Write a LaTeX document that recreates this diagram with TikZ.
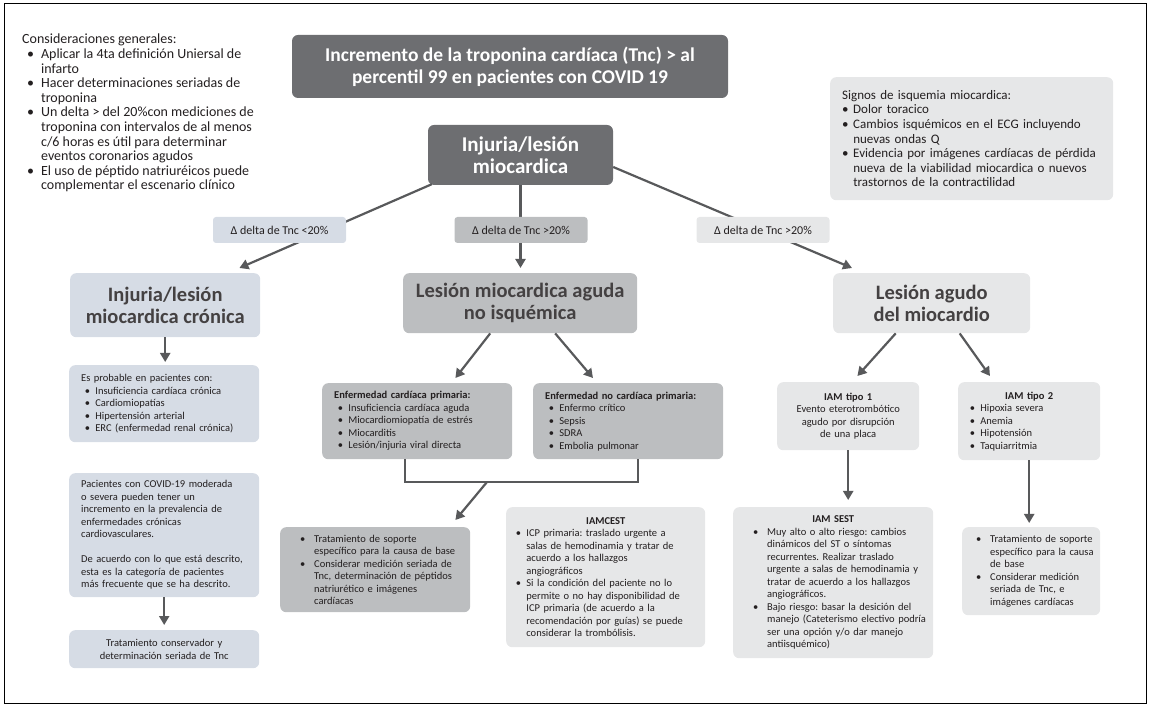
\documentclass[tikz,border=0pt]{standalone}
\usepackage{fontspec}
\setmainfont{Carlito}
\usetikzlibrary{arrows.meta}
\definecolor{dkbox}{HTML}{6D6E71}
\definecolor{mdbox}{HTML}{BCBEC0}
\definecolor{ltbox}{HTML}{E6E7E8}
\definecolor{blbox}{HTML}{D6DCE5}
\definecolor{linec}{HTML}{58595B}
\definecolor{txt}{HTML}{231F20}
\newcommand{\bul}[1][.35em]{\hspace*{#1}\makebox[1em][l]{\textbullet}}
\newcommand{\ind}[1][.35em]{\hspace*{#1}\hspace*{1em}}
\newcommand{\sbul}{\makebox[.85em][l]{\textbullet}}
\newcommand{\sind}{\hspace*{.85em}}
\frenchspacing

\begin{document}
\begin{tikzpicture}[
    x=1pt, y=-1pt,
    darkbox/.style={fill=dkbox, text=white, rounded corners=6pt, align=center, font=\bfseries\fontsize{21}{22}\selectfont},
    headbox/.style={rounded corners=6pt, align=center, anchor=north west, text=txt!85, font=\bfseries\fontsize{20.5}{22}\selectfont},
    infobox/.style={rounded corners=6pt, align=left, anchor=north west, text=txt, inner xsep=12pt, inner ysep=0pt, font=\fontsize{10.5}{12.5}\selectfont},
    deltabox/.style={rounded corners=3pt, minimum width=133pt, minimum height=26pt, text=txt, font=\fontsize{12}{13}\selectfont},
    link/.style={draw=linec, line width=2.2pt},
    arr/.style={link, -{Triangle[width=10pt,length=9pt]}},
  ]
  \useasboundingbox (0,0) rectangle (1152,708);
  \draw[line width=0.8pt] (4.5,3) rectangle (1146.5,703);

  \node[anchor=north west, align=left, inner sep=0pt, text=txt, font=\fontsize{14}{14.6}\selectfont] (gen) at (22,34)
    {Consideraciones generales:\\
     \bul Aplicar la 4ta definición Uniersal de\\
     \ind infarto\\
     \bul Hacer determinaciones seriadas de\\
     \ind troponina\\
     \bul Un delta > del 20\%con mediciones de\\
     \ind troponina con intervalos de al menos\\
     \ind c/6 horas es útil para determinar\\
     \ind eventos coronarios agudos\\
     \bul El uso de péptido natriuréicos puede\\
     \ind complementar el escenario clínico};
  \node[darkbox, font=\bfseries\fontsize{19.5}{22}\selectfont, minimum width=436pt, minimum height=63pt] (title) at (510,66.5)
    {Incremento de la troponina cardíaca (Tnc) > al\\percentil 99 en pacientes con COVID 19};
  \node[infobox, fill=ltbox, font=\fontsize{13}{14.6}\selectfont, text width=259pt, minimum height=123pt] (signos) at (830,77)
    {Signos de isquemia miocardica:\\
     \sbul Dolor toracico\\
     \sbul Cambios isquémicos en el ECG incluyendo\\
     \sind nuevas ondas Q\\
     \sbul Evidencia por imágenes cardíacas de pérdida\\
     \sind nueva de la viabilidad miocardica o nuevos\\
     \sind trastornos de la contractilidad};
  \node[darkbox, minimum width=185pt, minimum height=60pt] (inj) at (520.5,155) {Injuria/lesión\\miocardica};

  \node[headbox, fill=blbox, minimum width=190pt, minimum height=64pt] (chron) at (70,273) {Injuria/lesión\\miocardica crónica};
  \node[headbox, fill=mdbox, minimum width=234pt, minimum height=60pt] (noisq) at (403,273) {Lesión miocardica aguda\\no isquémica};
  \node[headbox, fill=ltbox, minimum width=197pt, minimum height=60pt] (agudo) at (833,273) {Lesión agudo\\del miocardio};

  \node[infobox, fill=blbox, text width=166pt, minimum height=77pt] (esprob) at (69,365)
    {Es probable en pacientes con:\\
     \bul Insuficiencia cardíaca crónica\\
     \bul Cardiomiopatías\\
     \bul Hipertensión arterial\\
     \bul ERC (enfermedad renal crónica)};
  \node[infobox, fill=blbox, text width=166pt, minimum height=124pt] (pac) at (69,473)
    {Pacientes con COVID-19 moderada\\
     o severa pueden tener un\\
     incremento en la prevalencia de\\
     enfermedades crónicas\\
     cardiovasculares.\\[12.5pt]
     De acuerdo con lo que está descrito,\\
     esta es la categoría de pacientes\\
     más frecuente que se ha descrito.};
  \node[infobox, fill=blbox, align=center, text width=166pt, minimum height=38pt] (conserv) at (69,630)
    {Tratamiento conservador y\\determinación seriada de Tnc};

  \node[infobox, fill=mdbox, inner xsep=12pt, text width=166pt, minimum height=76pt] (card) at (322,383)
    {\textbf{Enfermedad cardíaca primaria:}\\
     \bul Insuficiencia cardíaca aguda\\
     \bul Miocardiomiopatía de estrés\\
     \bul Miocarditis\\
     \bul Lesión/injuria viral directa};
  \node[infobox, fill=mdbox, inner xsep=12pt, text width=166pt, minimum height=76pt] (nocard) at (533,383)
    {\textbf{Enfermedad no cardíaca primaria:}\\
     \bul Enfermo crítico\\
     \bul Sepsis\\
     \bul SDRA\\
     \bul Embolia pulmonar};
  \node[infobox, fill=mdbox, inner xsep=4pt, text width=182pt, minimum height=85pt] (soporte) at (280,527)
    {\bul[16pt] Tratamiento de soporte\\
     \ind[16pt] específico para la causa de base\\
     \bul[16pt] Considerar medición seriada de\\
     \ind[16pt] Tnc, determinación de péptidos\\
     \ind[16pt] natriurético e imágenes\\
     \ind[16pt] cardíacas};
  \node[infobox, fill=ltbox, inner xsep=6pt, text width=187pt, minimum height=140pt] (iamcest) at (506,507)
    {\makebox[\linewidth]{\textbf{IAMCEST}}\\
     \bul ICP primaria: traslado urgente a\\
     \ind salas de hemodinamia y tratar de\\
     \ind acuerdo a los hallazgos\\
     \ind angiográficos\\
     \bul Si la condición del paciente no lo\\
     \ind permite o no hay disponibilidad de\\
     \ind ICP primaria (de acuerdo a la\\
     \ind recomendación por guías) se puede\\
     \ind considerar la trombólisis.};

  \node[infobox, fill=ltbox, align=center, inner xsep=4pt, text width=134pt, minimum height=68pt] (tipo1) at (777,382)
    {\textbf{IAM tipo 1}\\Evento eterotrombótico\\agudo por disrupción\\de una placa};
  \node[infobox, fill=ltbox, inner xsep=8pt, text width=126pt, minimum height=78pt] (tipo2) at (958,382)
    {\makebox[\linewidth]{\textbf{IAM tipo 2}}\\
     \bul Hipoxia severa\\
     \bul Anemia\\
     \bul Hipotensión\\
     \bul Taquiarritmia};
  \node[infobox, fill=ltbox, inner xsep=6pt, text width=188pt, minimum height=151pt] (sest) at (733,507)
    {\makebox[\linewidth]{\textbf{IAM SEST}}\\
     \bul[14pt] Muy alto o alto riesgo: cambios\\
     \ind[14pt] dinámicos del ST o síntomas\\
     \ind[14pt] recurrentes. Realizar traslado\\
     \ind[14pt] urgente a salas de hemodinamia y\\
     \ind[14pt] tratar de acuerdo a los hallazgos\\
     \ind[14pt] angiográficos.\\
     \bul[14pt] Bajo riesgo: basar la desición del\\
     \ind[14pt] manejo (Cateterismo electivo podría\\
     \ind[14pt] ser una opción y/o dar manejo\\
     \ind[14pt] antiisquémico)};
  \node[infobox, fill=ltbox, inner xsep=4pt, text width=130pt, minimum height=88pt] (soporte2) at (962,527)
    {\bul[10pt] Tratamiento de soporte\\
     \ind[10pt] específico para la causa\\
     \ind[10pt] de base\\
     \bul[10pt] Considerar medición\\
     \ind[10pt] seriada de Tnc, e\\
     \ind[10pt] imágenes cardíacas};

  \draw[arr] ([xshift=4pt,yshift=1pt]inj.south west) -- ([xshift=-21pt,yshift=5pt]chron.north east);
  \draw[arr, shorten >=5pt] (inj.south) -- (inj.south |- noisq.north);
  \draw[arr] ([yshift=-12pt]inj.east) -- ([xshift=19pt,yshift=5pt]agudo.north west);
  \draw[arr, shorten >=3pt] (chron.south) -- (chron.south |- esprob.north);
  \draw[arr, shorten >=5pt] (pac.south) -- (pac.south |- conserv.north);
  \draw[arr] ([xshift=-30pt]noisq.south) -- ([xshift=-57pt,yshift=5pt]card.north east);
  \draw[arr] ([xshift=35pt]noisq.south) -- ([xshift=60pt,yshift=5pt]nocard.north west);
  \draw[arr] ([xshift=-36pt]agudo.south) -- ([xshift=-62pt,yshift=6pt]tipo1.north east);
  \draw[arr] ([xshift=28pt]agudo.south) -- ([xshift=32pt,yshift=6pt]tipo2.north west);
  \coordinate (brk) at (487,482);
  \draw[link] ([xshift=-12pt]card.south) |- (brk) -| ([xshift=10pt]nocard.south);
  \draw[arr] (brk) -- ([xshift=-15pt,yshift=7pt]soporte.north east);
  \draw[arr, shorten >=7pt] (tipo1.south) -- (tipo1.south |- sest.north);
  \draw[arr, shorten >=4pt] (tipo2.south) -- (tipo2.south |- soporte2.north);

  \node[deltabox, fill=blbox] (dlow)  at (279.5,230) {Δ delta de Tnc <20\%};
  \node[deltabox, fill=mdbox] (dmid)  at (521,230)   {Δ delta de Tnc >20\%};
  \node[deltabox, fill=ltbox] (dhigh) at (763,230)   {Δ delta de Tnc >20\%};
\end{tikzpicture}
\end{document}
